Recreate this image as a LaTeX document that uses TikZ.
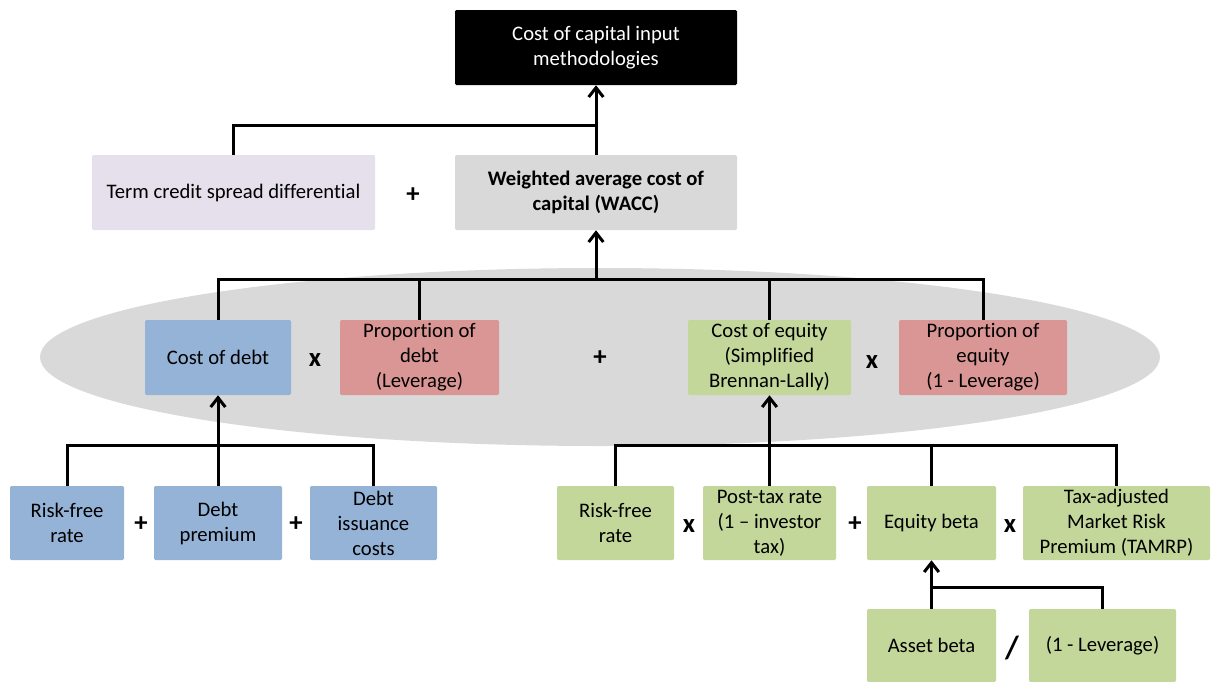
\documentclass[tikz,border=0pt]{standalone}
\usepackage{fontspec}
\setmainfont{Carlito}[Ligatures=NoCommon]
\usetikzlibrary{arrows.meta}
\definecolor{cblue}{HTML}{95B3D7}
\definecolor{cred}{HTML}{DA9694}
\definecolor{cgreen}{HTML}{C4D79B}
\definecolor{cgray}{HTML}{D9D9D9}
\definecolor{clav}{HTML}{E6E0EC}
\begin{document}
\begin{tikzpicture}[x=0.75pt,y=-0.75pt,
  box/.style={rounded corners=1pt, align=center, inner sep=0pt,
    font=\fontsize{15.5}{18.75}\selectfont, minimum height=56.25pt},
  lowbox/.style={box, minimum height=55.5pt},
  op/.style={font=\fontsize{20}{22}\selectfont\bfseries, inner sep=0pt},
  conn/.style={line width=2.25pt},
  arr/.style={conn, -{Straight Barb[length=7pt,width=11pt,line width=2.25pt]}}]
\useasboundingbox (0,0) rectangle (1211,682);
\fill[cgray] (600,357) ellipse [x radius=420pt, y radius=66.75pt];

\node[box, fill=black, text=white, minimum width=211.5pt] (top) at (596,47.5) {Cost of capital input\\methodologies};
\node[box, fill=clav, minimum width=212.25pt] (term) at (233.5,192.5) {Term credit spread differential};
\node[box, fill=cgray, minimum width=211.5pt, font=\fontsize{15.5}{18.75}\selectfont\bfseries] (wacc) at (596,192.5) {Weighted average cost of\\capital (WACC)};
\node[op] (p1) at (413,195) {+};

\node[box, fill=cblue, minimum width=109.5pt] (cod) at (218,357.5) {Cost of debt};
\node[op] (x1) at (315,360) {x};
\node[box, fill=cred, minimum width=119.25pt] (pod) at (419.5,357.5) {Proportion of\\debt\\(Leverage)};
\node[op] (p2) at (600,358) {+};
\node[box, fill=cgreen, minimum width=122.25pt] (coe) at (769.5,357.5) {Cost of equity\\(Simplified\\Brennan-Lally)};
\node[op] (x2) at (872,362) {x};
\node[box, fill=cred, minimum width=126pt] (poe) at (983,357.5) {Proportion of\\equity\\(1 - Leverage)};

\node[lowbox, fill=cblue, minimum width=85.5pt] (rf1) at (67,523) {Risk-free\\rate};
\node[op] (p3) at (141,524) {+};
\node[lowbox, fill=cblue, minimum width=96pt] (dp) at (218,523) {Debt\\premium};
\node[op] (p4) at (296,524) {+};
\node[lowbox, fill=cblue, minimum width=95.25pt] (dic) at (373.5,523) {Debt\\issuance\\costs};

\node[lowbox, fill=cgreen, minimum width=87.75pt] (rf2) at (615.5,523) {Risk-free\\rate};
\node[op] (x3) at (689,526) {x};
\node[lowbox, fill=cgreen, minimum width=99.75pt] (ptr) at (769.5,523) {Post-tax rate\\(1 -- investor\\tax)};
\node[op] (p5) at (855,524) {+};
\node[lowbox, fill=cgreen, minimum width=96.75pt] (eb) at (931.5,523) {Equity beta};
\node[op] (x4) at (1010,526) {x};
\node[lowbox, fill=cgreen, minimum width=140.25pt] (tam) at (1116.5,523) {Tax-adjusted\\Market Risk\\Premium (TAMRP)};

\node[lowbox, fill=cgreen, minimum width=96.75pt, minimum height=54.75pt] (ab) at (931.5,645.5) {Asset beta};
\node[op, font=\fontsize{24}{26}\selectfont\bfseries] (sl) at (1012,648) {/};
\node[lowbox, fill=cgreen, minimum width=110.25pt, minimum height=54.75pt] (lev) at (1102.5,645.5) {(1 - Leverage)};

% top level
\coordinate (j1) at (596,125);
\draw[conn] (term.north) |- (j1);
\draw[arr] (wacc.north) -- (top.south);

% WACC level
\coordinate (j2) at (596,279);
\draw[conn] (cod.north) -- (cod.north |- j2) -- (poe.north |- j2) -- (poe.north);
\draw[conn] (pod.north) -- (pod.north |- j2);
\draw[conn] (coe.north) -- (coe.north |- j2);
\draw[arr] (j2) -- (wacc.south);

% cost of debt
\coordinate (j3) at (218,445);
\draw[conn] (rf1.north) -- (rf1.north |- j3) -- (dic.north |- j3) -- (dic.north);
\draw[arr] (dp.north) -- (cod.south);

% cost of equity
\coordinate (j4) at (770,445);
\draw[conn] (rf2.north) -- (rf2.north |- j4) -- (tam.north |- j4) -- (tam.north);
\draw[conn] (eb.north) -- (eb.north |- j4);
\draw[arr] (ptr.north) -- (coe.south);

% equity beta
\coordinate (j5) at (931.5,587);
\draw[conn] (lev.north) |- (j5);
\draw[arr] (ab.north) -- (eb.south);
\end{tikzpicture}
\end{document}
